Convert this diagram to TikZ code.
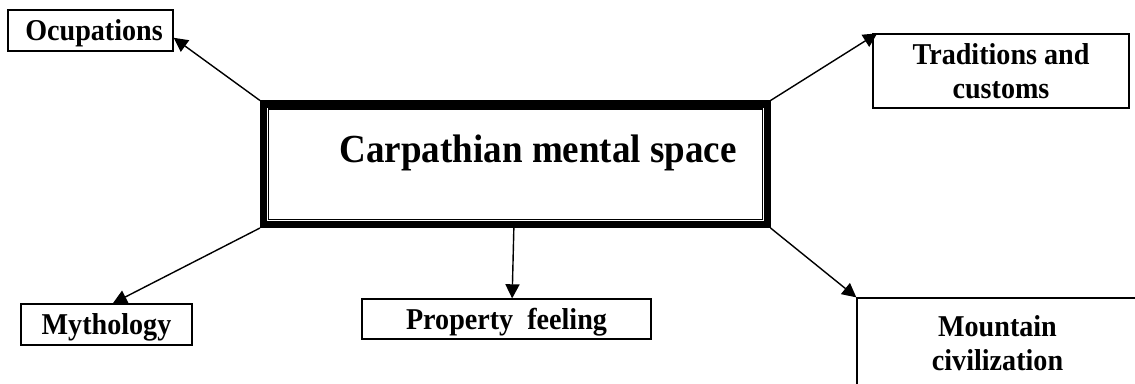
\documentclass[tikz,border=0pt]{standalone}
\usepackage{fontspec}
\setmainfont{Liberation Serif}[FakeStretch=0.93]
\usetikzlibrary{arrows.meta}

\begin{document}
\begin{tikzpicture}[
      x=0.025cm, y=-0.025cm,
      every node/.style={rectangle, draw, line width=0.9pt, inner sep=0pt, align=center,
        font=\bfseries\fontsize{21.5}{24}\selectfont},
      oneline/.style={text height=14.8pt, text depth=0pt},
      link/.style={-{Triangle[length=10pt, width=10pt]}, line width=1pt}
    ]
    \useasboundingbox (0,0) rectangle (1135,383);
    \clip (0,0) rectangle (1135,383);

    % central box
    \node[line width=5pt, minimum width=12.5875cm, minimum height=3.0125cm,
      font=\bfseries\fontsize{28.3}{32}\selectfont, text height=19.8pt, text depth=21.6pt]
      (space) at (515.25,164.25) {\hspace*{32.6pt}Carpathian mental space};
    \draw[line width=0.8pt] ([shift={(6,6)}]space.north west) rectangle ([shift={(-6,-6)}]space.south east);
    \draw[line width=0.8pt] ([shift={(8.5,8.5)}]space.north west) rectangle ([shift={(-8.5,-8.5)}]space.south east);

    \node[oneline, minimum width=4.125cm, minimum height=1.025cm] (ocup) at (90.5,30.5) {\hspace*{5pt}Ocupations};
    \node[minimum width=6.4cm, minimum height=1.85cm] (trad) at (1001,71) {Traditions and\\customs};
    \node[oneline, minimum width=4.275cm, minimum height=1.025cm] (myth) at (106.5,324.5) {Mythology};
    \node[oneline, minimum width=7.225cm, minimum height=1cm] (prop) at (506.5,319) {Property\ \ feeling};
    \node[minimum width=7.025cm, minimum height=2.275cm] (mount) at (997.5,343.5) {Mountain\\civilization};

    \draw[link] (space.north west) -- (ocup.-5);
    \draw[link] (space.north east) -- ([xshift=3.5pt]trad.north west);
    \draw[link] (space.south west) -- ([xshift=4.5pt]myth.north);
    \draw[link] ([xshift=-1pt]space.south) -- ([xshift=4pt]prop.north);
    \draw[link] (space.south east) -- (mount.north west);

  \end{tikzpicture}
\end{document}
